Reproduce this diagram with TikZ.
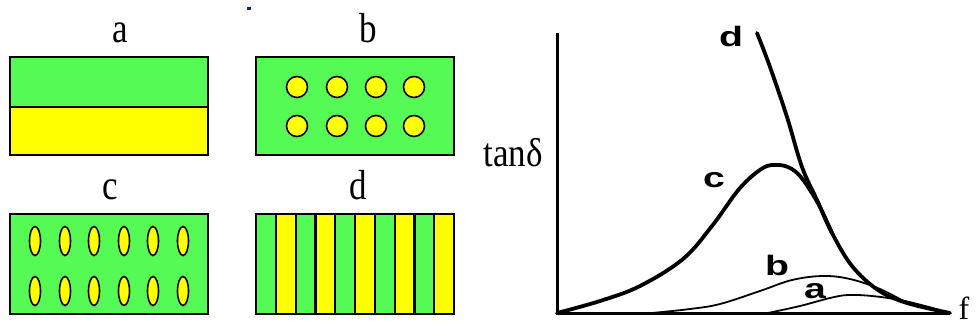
\documentclass[tikz,border=0pt]{standalone}
\usepackage{fontspec}
\setmainfont{Liberation Serif}
\newfontfamily\curvefont{Liberation Sans}
\definecolor{pgreen}{RGB}{85,250,85}
\definecolor{pyellow}{RGB}{255,255,0}
\definecolor{dblue}{RGB}{20,30,140}
\begin{document}
\begin{tikzpicture}[x=1pt,y=-1pt,
  panel/.style={draw=black,line width=2.6pt},
  inc/.style={draw=black,line width=1.6pt,fill=pyellow},
  plabel/.style={anchor=base,inner sep=0pt,font=\fontsize{35}{35}\selectfont},
  clabel/.style={inner sep=0pt,font=\curvefont\bfseries\fontsize{28}{28}\selectfont},
  axis/.style={line width=3pt},
  thickcurve/.style={line width=3.8pt,line cap=round,line join=round},
  thincurve/.style={line width=1.8pt,line cap=round,line join=round}]
\useasboundingbox (0,0) rectangle (978,327);
% tiny blue mark
\fill[dblue] (247,7) rectangle (251,10);
% ---- panel a
\fill[pgreen] (10,57) rectangle (208,107);
\fill[pyellow] (10,107) rectangle (208,155);
\draw[line width=2.2pt] (10,107) -- (208,107);
\draw[panel] (10,57) rectangle (208,155);
\node[plabel] (la) at (120,42) {\scalebox{1}[1.2]{a}};
% ---- panel b
\fill[pgreen] (256,57) rectangle (454,155);
\foreach \cx in {297,337,376,414}{
  \foreach \cy in {87,126}{
    \draw[inc] (\cx,\cy) circle (10.5);
  }
}
\draw[panel] (256,57) rectangle (454,155);
\node[plabel] (lb) at (368,42) {\scalebox{1}[1.2]{b}};
% ---- panel c
\fill[pgreen] (10,214) rectangle (208,314);
\foreach \cx in {35,65,94,124,153,183}{
  \foreach \cy in {241,291}{
    \draw[inc] (\cx,\cy) ellipse (5.5 and 14.5);
  }
}
\draw[panel] (10,214) rectangle (208,314);
\node[plabel] (lc) at (110,199) {\scalebox{1}[1.2]{c}};
% ---- panel d
\foreach \i in {0,...,9}{
  \pgfmathsetmacro{\xa}{256+19.8*\i}
  \pgfmathsetmacro{\xb}{256+19.8*(\i+1)}
  \ifodd\i
    \fill[pyellow] (\xa,214) rectangle (\xb,314);
  \else
    \fill[pgreen] (\xa,214) rectangle (\xb,314);
  \fi
}
\foreach \i in {1,...,9}{
  \draw[line width=2.2pt] (256+19.8*\i,214) -- (256+19.8*\i,314);
}
\draw[panel] (256,214) rectangle (454,314);
\node[plabel] (ld) at (358,199) {\scalebox{1}[1.2]{d}};
% ---- graph
\coordinate (O) at (557,313);
\coordinate (ytop) at (557,33);
\coordinate (xend) at (950,313);
\draw[axis] (ytop) -- (O) -- (xend);
\node[plabel] (tan) at (513,166) {\scalebox{1}[1.15]{tanδ}};
\node[plabel,font=\fontsize{32}{32}\selectfont] (f) at (964,319) {f};
% curve d
\draw[thickcurve] plot[smooth,tension=0.6] coordinates {(757,33) (770,67) (787,117) (802,167) (817,200) (832,233) (852,266) (878,290) (907,303) (950,313)};
% curve c
\draw[thickcurve] plot[smooth,tension=0.6] coordinates {(557,313) (600,301) (640,286) (683,259) (712,226) (740,188) (763,168) (778,165) (790,168) (800,176) (810,190) (820,207) (832,233)};
% curve b
\draw[thincurve] plot[smooth,tension=0.6] coordinates {(652,313) (690,309) (720,304) (760,291) (792,280) (823,276) (850,279) (880,289) (907,303)};
% curve a
\draw[thincurve] plot[smooth,tension=0.6] coordinates {(768,313) (800,306) (830,298) (848,295) (872,296) (900,300) (925,306) (950,313)};
% curve labels
\node[clabel] (cd) at (731,36) {\scalebox{1.4}[1]{d}};
\node[clabel] (cc) at (714,180) {\scalebox{1.4}[1]{c}};
\node[clabel] (cb) at (777,265) {\scalebox{1.4}[1]{b}};
\node[clabel] (ca) at (815,291) {\scalebox{1.4}[1]{a}};
\end{tikzpicture}
\end{document}
